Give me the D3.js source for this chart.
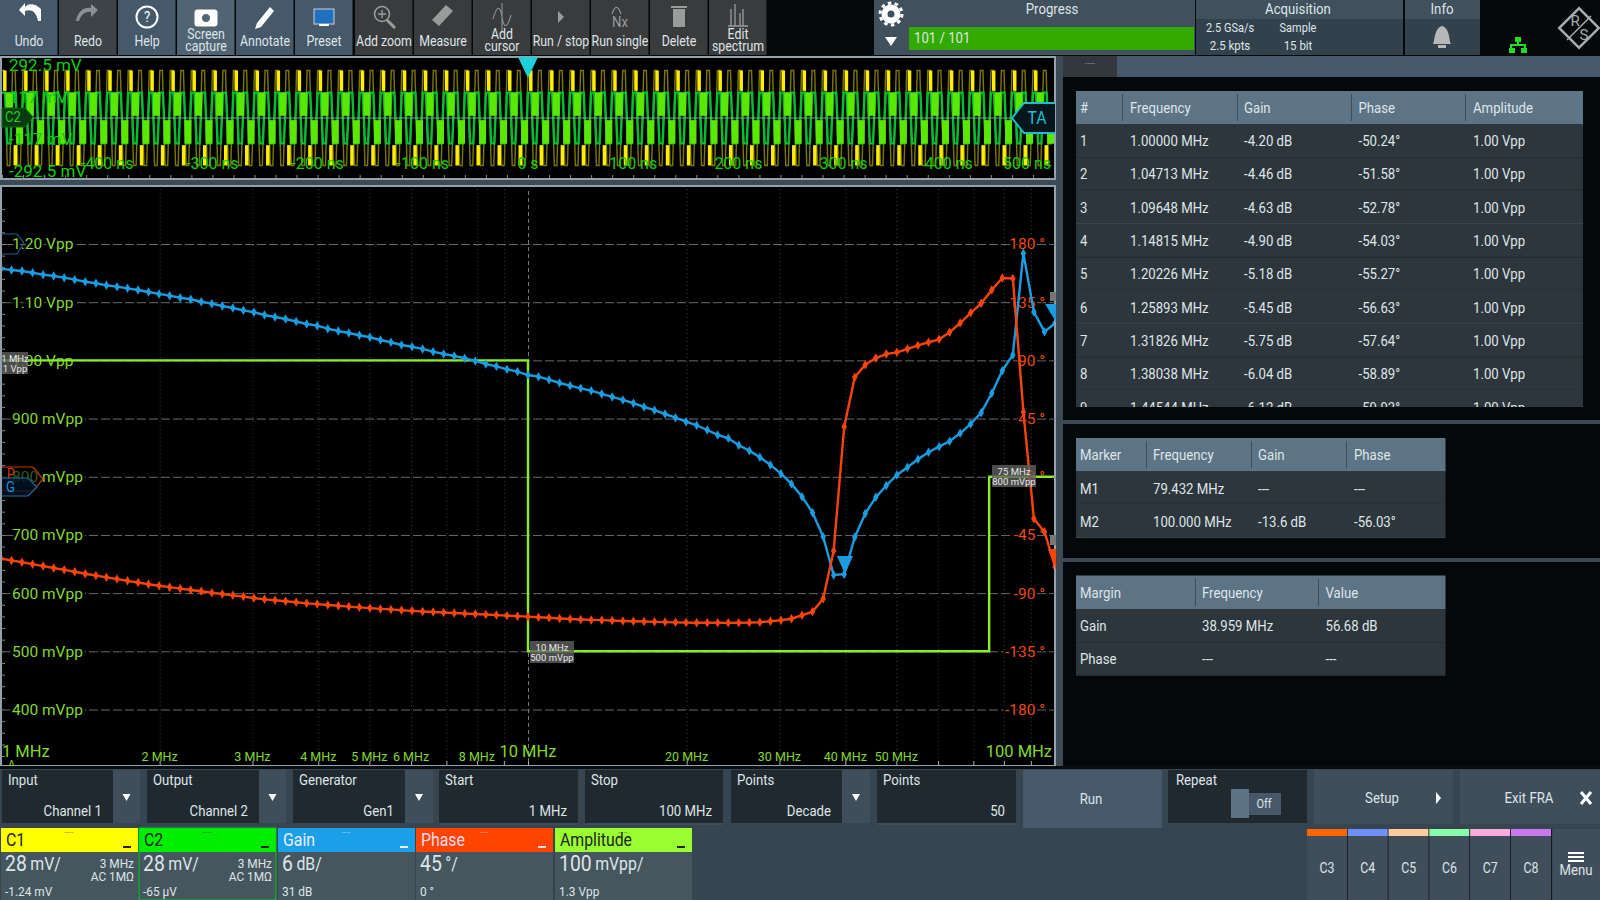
<!DOCTYPE html>
<html>
<head>
<meta charset="utf-8">
<script src="https://cdnjs.cloudflare.com/ajax/libs/d3/7.8.5/d3.min.js"></script>
<style>
  html, body { margin: 0; padding: 0; background: #040808; overflow: hidden; }
  svg { display: block; }
  text { font-family: Roboto, sans-serif; }
</style>
</head>
<body>
<svg id="scope" width="1600" height="900"></svg>
<script>
// sweep frequencies in MHz, 50 points per decade
const sweepFreq = [
  1.000, 1.047, 1.096, 1.148, 1.202, 1.259, 1.318, 1.380, 1.445, 1.514,
  1.585, 1.660, 1.738, 1.820, 1.905, 1.995, 2.089, 2.188, 2.291, 2.399,
  2.512, 2.630, 2.754, 2.884, 3.020, 3.162, 3.311, 3.467, 3.631, 3.802,
  3.981, 4.169, 4.365, 4.571, 4.786, 5.012, 5.248, 5.495, 5.754, 6.026,
  6.310, 6.607, 6.918, 7.244, 7.586, 7.943, 8.318, 8.710, 9.120, 9.550,
  10.00, 10.47, 10.96, 11.48, 12.02, 12.59, 13.18, 13.80, 14.45, 15.14,
  15.85, 16.60, 17.38, 18.20, 19.05, 19.95, 20.89, 21.88, 22.91, 23.99,
  25.12, 26.30, 27.54, 28.84, 30.20, 31.62, 33.11, 34.67, 36.31, 38.02,
  39.81, 41.69, 43.65, 45.71, 47.86, 50.12, 52.48, 54.95, 57.54, 60.26,
  63.10, 66.07, 69.18, 72.44, 75.86, 79.43, 83.18, 87.10, 91.20, 95.50,
  100.0
];
const gainDb = [
  -4.20, -4.33, -4.43, -4.61, -4.81, -4.95, -5.12, -5.33, -5.54, -5.70,
  -5.91, -6.05, -6.22, -6.39, -6.60, -6.80, -6.98, -7.19, -7.35, -7.60,
  -7.80, -8.04, -8.25, -8.49, -8.69, -8.97, -9.18, -9.38, -9.64, -9.90,
  -10.07, -10.38, -10.62, -10.83, -11.06, -11.27, -11.55, -11.78, -12.06, -12.24,
  -12.47, -12.75, -12.99, -13.20, -13.43, -13.71, -14.02, -14.26, -14.57, -14.81,
  -15.16, -15.33, -15.64, -15.98, -16.26, -16.53, -16.77, -17.11, -17.42, -17.73,
  -18.07, -18.45, -18.79, -19.18, -19.56, -19.97, -20.34, -20.83, -21.34, -21.68,
  -22.40, -22.96, -23.64, -24.43, -25.33, -26.39, -27.70, -29.35, -31.83, -35.77,
  -35.70, -31.89, -29.45, -27.76, -26.55, -25.46, -24.67, -23.85, -23.12, -22.55,
  -21.99, -21.17, -20.21, -19.04, -17.04, -14.71, -13.09, -2.61, -8.66, -10.69,
  -9.83
];
const phaseDeg = [
  -63.2, -64.7, -66.1, -67.6, -69.1, -70.6, -72.0, -73.5, -75.0, -76.4,
  -77.8, -79.1, -80.5, -81.8, -83.1, -84.3, -85.4, -86.5, -87.6, -88.6,
  -89.7, -90.7, -91.7, -92.7, -93.8, -94.8, -95.5, -96.3, -97.1, -97.9,
  -98.5, -99.2, -99.8, -100.4, -101.0, -101.6, -102.2, -102.6, -103.2, -103.7,
  -104.2, -104.6, -105.0, -105.4, -105.7, -106.1, -106.5, -107.0, -107.4, -107.8,
  -108.2, -108.7, -109.1, -109.6, -110.0, -110.4, -110.7, -110.9, -111.2, -111.5,
  -111.7, -111.9, -112.2, -112.4, -112.6, -112.8, -112.9, -112.9, -112.9, -113.0,
  -112.9, -112.8, -112.5, -111.8, -111.0, -109.8, -107.1, -104.3, -94.3, -57.2,
  38.7, 76.9, 86.6, 91.8, 94.9, 96.2, 98.8, 101.6, 104.0, 106.3,
  111.7, 118.9, 126.8, 134.1, 144.4, 153.7, 153.4, 50.1, -32.5, -42.5,
  -69.6
];
// amplitude profile: stepped, three segments
const ampFreq = [1, 10, 10, 75, 75, 100];
const ampVpp = [1.0, 1.0, 0.5, 0.5, 0.8, 0.8];

const ampTicks = [1.2, 1.1, 1.0, 0.9, 0.8, 0.7, 0.6, 0.5, 0.4];
const phaseTicks = [180, 135, 90, 45, 0, -45, -90, -135, -180];
const freqGrid = [2, 3, 4, 5, 6, 7, 8, 9, 10, 20, 30, 40, 50, 60, 70, 80, 90];
const freqSmallLabels = [2, 3, 4, 5, 6, 8, 20, 30, 40, 50];
const freqBigLabels = [1, 10, 100];

// one repeat (20 ns) of the two time traces
const c1LineT = [0, 2.5, 5, 7.5, 10, 12.5, 15, 17.5];
const c1LineV = [262, 262, -262, -262, 262, 262, -262, -262];
const c1BarT = [1, 11], c1BarHi = [262, -150], c1BarLo = [150, -262];
const c2LineT = [0, 3, 5, 8, 10, 13, 15, 18];
const c2LineV = [140, 140, -140, -140, 140, 140, -140, -140];
const c2BarT = [3.5, 13.5], c2BarHi = [142, -12], c2BarLo = [12, -142];
const timeTicks = [-400, -300, -200, -100, 0, 100, 200, 300, 400];
const voltTicks = [292.5, 117, -117, -292.5];

const toolNames = [['Undo'], ['Redo'], ['Help'], ['Screen', 'capture'], ['Annotate'], ['Preset'], ['Add zoom'],
  ['Measure'], ['Add', 'cursor'], ['Run / stop'], ['Run single'], ['Delete'], ['Edit', 'spectrum']];

const resultHead = ['#', 'Frequency', 'Gain', 'Phase', 'Amplitude'];
const resultIdx = ['1', '2', '3', '4', '5', '6', '7', '8', '9'];
const resultFreq = ['1.00000 MHz', '1.04713 MHz', '1.09648 MHz', '1.14815 MHz', '1.20226 MHz', '1.25893 MHz', '1.31826 MHz', '1.38038 MHz', '1.44544 MHz'];
const resultGain = ['-4.20 dB', '-4.46 dB', '-4.63 dB', '-4.90 dB', '-5.18 dB', '-5.45 dB', '-5.75 dB', '-6.04 dB', '-6.12 dB'];
const resultPhase = ['-50.24°', '-51.58°', '-52.78°', '-54.03°', '-55.27°', '-56.63°', '-57.64°', '-58.89°', '-59.93°'];
const resultAmp = ['1.00 Vpp', '1.00 Vpp', '1.00 Vpp', '1.00 Vpp', '1.00 Vpp', '1.00 Vpp', '1.00 Vpp', '1.00 Vpp', '1.00 Vpp'];

const markerRows = [['Marker', 'Frequency', 'Gain', 'Phase'], ['M1', '79.432 MHz', '---', '---'], ['M2', '100.000 MHz', '-13.6 dB', '-56.03°']];
const marginRows = [['Margin', 'Frequency', 'Value'], ['Gain', '38.959 MHz', '56.68 dB'], ['Phase', '---', '---']];

const svg = d3.select('#scope');
const BAND = '#3b4a55', HEAD = '#5d7386', ROW = '#2d363c', TXT = '#dfe5e8';

function label(g, x, y, str, o = {}) {
  const sx = o.wide ? 1 : 0.88;
  return g.append('text')
    .attr('transform', `translate(${x},${y}) scale(${sx},1)`)
    .attr('text-anchor', o.anchor || 'start')
    .attr('dominant-baseline', 'central')
    .attr('font-size', o.size || 15)
    .attr('fill', o.fill || TXT)
    .text(str);
}
function box(g, x, y, w, h, fill, stroke) {
  return g.append('rect').attr('x', x).attr('y', y).attr('width', w).attr('height', h)
    .attr('fill', fill).attr('stroke', stroke || 'none');
}

// ---- toolbar
const bar = svg.append('g');
const toolFill = ['#46596a', '#3c4349', '#46596a', '#506474', '#46596a', '#46596a', '#393b3d', '#393b3d', '#393b3d', '#393b3d', '#393b3d', '#393b3d', '#393b3d'];
const toolIcon = [
  'M12 -8 C4 -16 -3 -12 -4 -10 L-4 -14 L-10 -7 L-4 -1 L-4 -6 C2 -8 7 -6 9 4 L12 4 Z',
  'M-12 4 C-10 -6 -4 -10 3 -9 L3 -13 L10 -7 L3 0 L3 -5 C-3 -6 -7 -2 -9 4 Z',
  null, null, 'M-8 6 L-10 12 L-4 10 L9 -6 L5 -10 Z', null, null,
  'M-11 3 L3 -12 L10 -6 L-4 9 Z', null, 'M-3 -6 L3 0 L-3 6 Z', null, null, null];
const iconFill = ['#fff', '#8a8f92', '#fff', '#fff', '#fff', '#fff', '#9a9c9c', '#9a9c9c', '#8a8c8c', '#9a9c9c', '#9a9c9c', '#9a9c9c', '#9a9c9c'];
toolNames.forEach((names, i) => {
  const x = i * 59 + (i > 5 ? 1 : 0), cx = x + 29;
  box(bar, x, 0, 57.5, 55, toolFill[i]);
  const ic = bar.append('g').attr('transform', `translate(${cx},17)`).attr('fill', iconFill[i]).attr('stroke', iconFill[i]);
  if (toolIcon[i]) ic.append('path').attr('d', toolIcon[i]).attr('stroke', 'none');
  if (i === 2) {
    ic.append('circle').attr('r', 10.5).attr('fill', 'none').attr('stroke-width', 2);
    label(ic, 0, 0, '?', { anchor: 'middle', size: 15, fill: '#fff' }).attr('stroke', 'none');
  }
  if (i === 3) {
    ic.append('rect').attr('x', -11).attr('y', -7).attr('width', 22).attr('height', 16).attr('rx', 2);
    ic.append('circle').attr('cy', 1).attr('r', 4.5).attr('fill', '#506474');
  }
  if (i === 5) {
    ic.append('rect').attr('x', -10).attr('y', -8).attr('width', 20).attr('height', 15).attr('fill', '#2070c0').attr('stroke', '#ccc');
    ic.append('rect').attr('x', -5).attr('y', 7).attr('width', 10).attr('height', 2).attr('stroke', 'none');
  }
  if (i === 6) {
    ic.append('circle').attr('cx', -2).attr('cy', -3).attr('r', 7.5).attr('fill', 'none').attr('stroke-width', 1.6);
    ic.append('line').attr('x1', 3).attr('y1', 3).attr('x2', 11).attr('y2', 11).attr('stroke-width', 3);
    ic.append('path').attr('d', 'M-6 -3 H2 M-2 -7 V1').attr('stroke-width', 1.4);
  }
  if (i === 8) ic.append('path').attr('d', 'M-9 2 C-5 -12 -2 -12 0 0 C2 12 5 12 9 -2 M0 -14 V14').attr('fill', 'none').attr('stroke-width', 1.2);
  if (i === 10) {
    ic.append('path').attr('d', 'M-8 -3 C-5 -12 -2 -12 1 -3').attr('fill', 'none').attr('stroke-width', 1.2);
    label(ic, 0, 5, 'Nx', { anchor: 'middle', size: 15, fill: '#9a9c9c' }).attr('stroke', 'none');
  }
  if (i === 11) {
    ic.append('rect').attr('x', -6).attr('y', -8).attr('width', 12).attr('height', 18).attr('stroke', 'none');
    ic.append('rect').attr('x', -8).attr('y', -11).attr('width', 16).attr('height', 2).attr('stroke', 'none');
  }
  if (i === 12) ic.append('path').attr('d', 'M-10 9 H10 M-7 9 V-8 M-3 9 V-13 M2 9 V-4 M5 9 V-8').attr('fill', 'none').attr('stroke-width', 1.3);
  if (names.length === 2) {
    label(bar, cx, 34, names[0], { anchor: 'middle', size: 14 });
    label(bar, cx, 46, names[1], { anchor: 'middle', size: 14 });
  } else {
    label(bar, cx, 41, names[0], { anchor: 'middle', size: 14 });
  }
});

// gear and progress group
box(bar, 874, 0, 35, 55, '#40505c');
bar.append('circle').attr('cx', 891).attr('cy', 14).attr('r', 6.5).attr('fill', 'none').attr('stroke', '#fff').attr('stroke-width', 6);
bar.append('circle').attr('cx', 891).attr('cy', 14).attr('r', 11).attr('fill', 'none').attr('stroke', '#fff').attr('stroke-width', 3).attr('stroke-dasharray', '3.5 3.4');
bar.append('path').attr('d', 'M885 37 H897 L891 46 Z').attr('fill', '#fff');
box(bar, 909, 0, 286, 55, '#40505c');
box(bar, 909, 27, 285, 23, '#33aa00');
label(bar, 1052, 9, 'Progress', { anchor: 'middle', size: 15 });
label(bar, 914, 38, '101 / 101', { size: 15 });
box(bar, 1196, 0, 207, 55, '#33414c');
box(bar, 1196, 0, 207, 19, '#40505c');
label(bar, 1298, 9, 'Acquisition', { anchor: 'middle', size: 15 });
label(bar, 1230, 28, '2.5 GSa/s', { anchor: 'middle', size: 12.5 });
label(bar, 1298, 28, 'Sample', { anchor: 'middle', size: 12.5 });
label(bar, 1230, 46, '2.5 kpts', { anchor: 'middle', size: 13 });
label(bar, 1298, 46, '15 bit', { anchor: 'middle', size: 13 });
box(bar, 1405, 0, 75, 55, '#33414c');
box(bar, 1405, 0, 75, 19, '#40505c');
label(bar, 1442, 9, 'Info', { anchor: 'middle', size: 15 });
bar.append('path').attr('d', 'M1433 44 C1435 41 1434 28 1442 26 C1450 28 1449 41 1451 44 Z').attr('fill', '#b8b8b8');
box(bar, 1438, 45, 8, 3, '#b8b8b8');
// network icon
bar.append('path').attr('d', 'M1515 37 h6 v5 h-2 v2 h7 v4 h-2 v-2 h-12 v2 h-2 v-4 h7 v-2 h-2 z').attr('fill', '#22dd22');
box(bar, 1509, 48, 6, 5, '#22dd22'); box(bar, 1521, 48, 6, 5, '#22dd22');
// logo
const logo = bar.append('g').attr('transform', 'translate(1579,28)');
logo.append('rect').attr('x', -14).attr('y', -14).attr('width', 28).attr('height', 28)
  .attr('transform', 'rotate(45)').attr('fill', 'none').attr('stroke', '#a7adb0').attr('stroke-width', 2.5);
label(logo, -4, -7, 'R', { anchor: 'middle', size: 15, fill: '#a7adb0', wide: true });
label(logo, 5, 7, 'S', { anchor: 'middle', size: 15, fill: '#a7adb0', wide: true });
logo.append('line').attr('x1', -12).attr('y1', 12).attr('x2', 12).attr('y2', -12).attr('stroke', '#a7adb0').attr('stroke-width', 1.5);

// ---- frames and bands
box(svg, 0, 180, 1063, 6, BAND);
box(svg, 1056, 56, 7, 714, BAND);
box(svg, 1063, 56, 537, 21, '#46586a');
box(svg, 1063, 56, 54, 21, '#32383c');
label(svg, 1090, 64, '·····', { anchor: 'middle', size: 9, fill: '#bbb' });
box(svg, 1063, 420, 537, 4, BAND);
box(svg, 1063, 558, 537, 4, BAND);

// ---- upper panel: time traces
const tPanel = svg.append('g');
box(tPanel, 1, 57, 1054, 122, '#000', '#93a2ad').attr('stroke-width', 2);
const xTime = d3.scaleLinear().domain([-500, 500]).range([2, 1054]);
const yVolt = d3.scaleLinear().domain([292.5, -292.5]).range([65, 171]);
tPanel.append('clipPath').attr('id', 'tclip').append('rect').attr('x', 2).attr('y', 58).attr('width', 1052).attr('height', 120);
const traces = tPanel.append('g').attr('clip-path', 'url(#tclip)');

tPanel.append('g').attr('transform', 'translate(0,178)')
  .call(d3.axisBottom(xTime).tickValues(d3.range(-500, 501, 20)).tickSize(-3).tickFormat(''))
  .call(a => a.select('.domain').remove())
  .call(a => a.selectAll('line').attr('stroke', '#888'));

const cycles = d3.range(-500, 500, 20);
const traceLine = d3.line().x(d => xTime(d[0])).y(d => yVolt(d[1]));
function linePts(ts, vs) {
  return cycles.flatMap(c => ts.map((t, i) => [c + t, vs[i]]));
}
function drawBars(ts, hi, lo, fill, w) {
  cycles.forEach(c => ts.forEach((t, i) => {
    traces.append('rect').attr('x', xTime(c + t)).attr('y', yVolt(hi[i]))
      .attr('width', w).attr('height', yVolt(lo[i]) - yVolt(hi[i])).attr('fill', fill);
  }));
}
traces.append('path').attr('d', traceLine(linePts(c1LineT, c1LineV)))
  .attr('fill', 'none').attr('stroke', '#7e7800').attr('stroke-width', 1.4);
drawBars(c1BarT, c1BarHi, c1BarLo, '#ffee00', 3.5);
traces.append('path').attr('d', traceLine(linePts(c2LineT, c2LineV)))
  .attr('fill', 'none').attr('stroke', '#00c030').attr('stroke-width', 2.4);
drawBars(c2BarT, c2BarHi, c2BarLo, '#5ae800', 7);
traces.append('line').attr('x1', 2).attr('x2', 1054).attr('y1', yVolt(0)).attr('y2', yVolt(0)).attr('stroke', '#b0b0a0').attr('stroke-width', 0.8);

tPanel.selectAll('text.tick-t').data(timeTicks).join('text').attr('class', 'tick-t')
  .attr('x', d => xTime(d)).attr('y', 163).attr('text-anchor', 'middle').attr('font-size', 16)
  .attr('dominant-baseline', 'central').attr('fill', '#10d010')
  .text(d => d === 0 ? '0 s' : d + ' ns');
label(tPanel, 1051, 163, '500 ns', { anchor: 'end', size: 16, fill: '#10d010', wide: true });
tPanel.selectAll('text.tick-v').data(voltTicks).join('text').attr('class', 'tick-v')
  .attr('x', 9).attr('y', d => yVolt(d)).attr('font-size', 17)
  .attr('dominant-baseline', 'central').attr('fill', '#10d010')
  .text(d => d + ' mV');
// C2 handle, trigger position, TA handle
tPanel.append('path').attr('d', 'M2 108 H25 L33 117 L25 127 H2 Z').attr('fill', '#0a3a10').attr('stroke', '#0a6a10');
label(tPanel, 5, 117, 'C2', { size: 15, fill: '#22cc22' });
tPanel.append('path').attr('d', 'M518 57 H538 L528 78 Z').attr('fill', '#1fd0d8');
tPanel.append('path').attr('d', 'M1055 103 H1024 L1012 118 L1024 133 H1055').attr('fill', '#06161c').attr('stroke', '#16c0d0').attr('stroke-width', 2);
label(tPanel, 1037, 118, 'TA', { anchor: 'middle', size: 18, fill: '#16c0d0' });

// ---- lower panel: bode plot
const plot = svg.append('g');
box(plot, 1, 186, 1054, 580, '#000', '#93a2ad').attr('stroke-width', 2);
const xFreq = d3.scaleLog().domain([1, 100]).range([1, 1055]);
const yAmp = d3.scaleLinear().domain([1.2, 0.4]).range([244, 709.5]);
const yPhase = d3.scaleLinear().domain([180, -180]).range([244, 709.5]);
const yGain = d3.scaleLinear().domain([-1.65, -49.65]).range([244, 709.5]);

// vertical grid
plot.append('g').attr('transform', 'translate(0,762)')
  .call(d3.axisBottom(xFreq).tickValues(freqGrid).tickSize(-574).tickFormat(''))
  .call(a => a.select('.domain').remove())
  .call(a => a.selectAll('line').attr('stroke', d => d === 10 ? '#777' : '#3f3f3f')
    .attr('stroke-dasharray', d => d === 10 ? '4 3' : '1 3'));
plot.append('g').attr('transform', 'translate(0,766)')
  .call(d3.axisBottom(xFreq).tickValues(freqGrid).tickSize(-5).tickFormat(''))
  .call(a => a.select('.domain').remove())
  .call(a => a.selectAll('line').attr('stroke', '#aaa'));
// left hand minor ticks
plot.append('g').attr('transform', 'translate(5,0)')
  .call(d3.axisLeft(yAmp).tickValues(d3.range(-3, 63).map(k => 1.2 - k * 0.02)).tickSize(4).tickFormat(''))
  .call(a => a.select('.domain').remove())
  .call(a => a.selectAll('line').attr('stroke', '#888'));

// amplitude axis with its grid lines
plot.append('g').attr('transform', 'translate(5,0)')
  .call(d3.axisLeft(yAmp).tickValues(ampTicks).tickSize(-1050)
    .tickFormat(d => d >= 1 ? d.toFixed(2) + ' Vpp' : Math.round(d * 1000) + ' mVpp'))
  .call(a => a.select('.domain').remove())
  .call(a => a.selectAll('line').attr('stroke', '#6a6a6a').attr('stroke-dasharray', '9 3'))
  .call(a => a.selectAll('text').attr('x', 7).attr('text-anchor', 'start').attr('font-size', 15.5)
    .attr('font-family', 'Roboto, sans-serif').attr('fill', '#84d82e')
    .attr('stroke', '#000').attr('stroke-width', 5).attr('paint-order', 'stroke'));

// phase axis, right side
plot.append('g').attr('transform', 'translate(1045,0)')
  .call(d3.axisLeft(yPhase).tickValues(phaseTicks).tickSize(0).tickPadding(0).tickFormat(d => d + ' °'))
  .call(a => a.select('.domain').remove())
  .call(a => a.selectAll('text').attr('font-size', 15.5).attr('font-family', 'Roboto, sans-serif').attr('fill', '#ee4a14')
    .attr('stroke', '#000').attr('stroke-width', 3).attr('paint-order', 'stroke'));

// frequency labels
plot.selectAll('text.f-small').data(freqSmallLabels).join('text').attr('class', 'f-small')
  .attr('x', d => xFreq(d)).attr('y', 756).attr('text-anchor', 'middle').attr('font-size', 12.5)
  .attr('dominant-baseline', 'central').attr('fill', '#84d82e').text(d => d + ' MHz');
plot.selectAll('text.f-big').data(freqBigLabels).join('text').attr('class', 'f-big')
  .attr('x', d => d === 1 ? 2 : d === 100 ? 1052 : xFreq(d))
  .attr('y', 751).attr('font-size', 16.5)
  .attr('text-anchor', d => d === 1 ? 'start' : d === 100 ? 'end' : 'middle')
  .attr('dominant-baseline', 'central').attr('fill', '#84d82e').text(d => d + ' MHz');

plot.append('clipPath').attr('id', 'pclip').append('rect').attr('x', 2).attr('y', 187).attr('width', 1052).attr('height', 578);
const curves = plot.append('g').attr('clip-path', 'url(#pclip)');

// amplitude steps
const ampLine = d3.line().x((d, i) => xFreq(ampFreq[i])).y(d => yAmp(d));
curves.append('path').attr('d', ampLine(ampVpp)).attr('fill', 'none').attr('stroke', '#88ee22').attr('stroke-width', 2.4);

function drawCurve(values, yScale, color) {
  const line = d3.line().x((d, i) => xFreq(sweepFreq[i])).y(d => yScale(d));
  curves.append('path').attr('d', line(values)).attr('fill', 'none').attr('stroke', color).attr('stroke-width', 2.4);
  curves.selectAll(null).data(values).join('path')
    .attr('d', d3.symbol(d3.symbolDiamond, 26))
    .attr('transform', (d, i) => `translate(${xFreq(sweepFreq[i])},${yScale(d)})`)
    .attr('fill', color);
}
drawCurve(gainDb, yGain, '#1a9de0');
drawCurve(phaseDeg, yPhase, '#f8440a');

// value chips on the amplitude profile
function chip(x, y, w, a, b) {
  box(plot, x, y, w, 22, 'rgba(95,95,95,0.8)');
  label(plot, x + w / 2, y + 6, a, { anchor: 'middle', size: 9.5, fill: '#e8e8e8', wide: true });
  label(plot, x + w / 2, y + 16, b, { anchor: 'middle', size: 9.5, fill: '#e8e8e8', wide: true });
}
chip(2, 352, 26, '1 MHz', '1 Vpp');
chip(530, 641, 44, '10 MHz', '500 mVpp');
chip(992, 465, 44, '75 MHz', '800 mVpp');

// curve markers and handles
plot.append('path').attr('d', 'M837 556 H853 L845 574 Z').attr('fill', '#1a9de0');
plot.append('path').attr('d', 'M1045 304 H1056 V322 Z').attr('fill', '#1a9de0');
box(plot, 1050, 292, 6, 9, '#777');
plot.append('path').attr('d', 'M1048 549 L1056 549 V570 Z').attr('fill', '#f8440a');
box(plot, 1050, 535, 6, 10, '#777');
plot.append('path').attr('d', 'M2 234 H17 L24 243 L17 254 H2').attr('fill', 'none').attr('stroke', '#1d5f90').attr('stroke-width', 1.2);
plot.append('path').attr('d', 'M2 467 H33 L43 479 L33 491 H2').attr('fill', 'rgba(0,0,0,0.6)').attr('stroke', '#c43810').attr('stroke-width', 1.2);
label(plot, 7, 474, 'P', { size: 14, fill: '#d83a10' });
plot.append('path').attr('d', 'M2 478 H28 L37 487 L28 496 H2').attr('fill', 'rgba(0,20,40,0.75)').attr('stroke', '#1d6fa0').attr('stroke-width', 1.2);
label(plot, 6, 487, 'G', { size: 15, fill: '#1d8fd0' });
label(plot, 8, 764, 'A', { size: 11, fill: '#84d82e', wide: true });

// ---- result tables
function headCells(g, x, y, w, h, seps) {
  box(g, x, y, w, h, HEAD);
  seps.forEach(s => box(g, s, y + 3, 1, h - 6, '#3c4d5b'));
}
function bodyRows(g, x, y, w, h, n) {
  d3.range(n).forEach(i => {
    box(g, x, y + i * h, w, h - 1, ROW);
    box(g, x, y + i * h + h - 1, w, 1, '#3c474f');
  });
}
const t1 = svg.append('g');
t1.append('clipPath').attr('id', 'rclip').append('rect').attr('x', 1076).attr('y', 90).attr('width', 507).attr('height', 317);
const t1c = t1.append('g').attr('clip-path', 'url(#rclip)');
headCells(t1c, 1076, 91, 507, 33, [1122, 1237, 1351, 1465]);
bodyRows(t1c, 1076, 124, 507, 33.35, 9);
const col1 = [1080, 1130, 1244, 1358.5, 1473];
resultHead.forEach((h, i) => label(t1c, col1[i], 108, h, { size: 15 }));
[resultIdx, resultFreq, resultGain, resultPhase, resultAmp].forEach((col, c) => {
  col.forEach((v, r) => label(t1c, col1[c], 140.5 + r * 33.35, v, { size: 15 }));
});

function smallTable(rows, y, cols, seps) {
  const g = svg.append('g');
  headCells(g, 1076, y, 369.5, 33.5, seps);
  bodyRows(g, 1076, y + 33.5, 369.5, 33.3, 2);
  rows.forEach((row, r) => row.forEach((v, c) => label(g, cols[c], y + 17 + r * 33.3, v, { size: 15 })));
}
smallTable(markerRows, 438, [1080, 1153, 1258, 1354], [1146, 1251, 1346]);
smallTable(marginRows, 575.5, [1080, 1202, 1325.5], [1195, 1318]);

// ---- bottom controls
const ctl = svg.append('g');
box(ctl, 0, 769, 1600, 131, '#36454f');
box(ctl, 0, 766, 1600, 3, '#0a0e10');
const DARK = '#20292f';
function field(x, w, head, value, dropW) {
  box(ctl, x, 770, w, 53, DARK);
  label(ctl, x + 6, 780, head, { size: 15 });
  label(ctl, x + w - 11, 811, value, { anchor: 'end', size: 15 });
  if (dropW) {
    box(ctl, x + w, 770, dropW, 53, '#3f4e5a');
    const c = x + w + dropW / 2;
    ctl.append('path').attr('d', `M${c - 4} 794 h8 l-4 7 z`).attr('fill', '#fff');
  } else {
    box(ctl, x, 823, w, 2, '#3f4e5a');
  }
}
field(2, 111, 'Input', 'Channel 1', 27);
field(147, 112, 'Output', 'Channel 2', 27);
field(293, 112, 'Generator', 'Gen1', 28);
field(439, 139, 'Start', '1  MHz');
field(585, 138, 'Stop', '100  MHz');
field(731, 111, 'Points', 'Decade', 28);
field(877, 139, 'Points', '50');
box(ctl, 1023, 770, 139, 58, '#46586a');
label(ctl, 1091, 799, 'Run', { anchor: 'middle', size: 15 });
box(ctl, 1168, 770, 139, 53, DARK);
label(ctl, 1176, 780, 'Repeat', { size: 15 });
box(ctl, 1249, 793, 32, 22, '#46586a');
box(ctl, 1231, 789, 18, 29, '#5c7385');
label(ctl, 1264, 804, 'Off', { anchor: 'middle', size: 12.5 });
box(ctl, 1314, 770, 139, 54, '#3f4e5a');
label(ctl, 1382, 798, 'Setup', { anchor: 'middle', size: 15 });
ctl.append('path').attr('d', 'M1436 792 L1441 798 L1436 804 Z').attr('fill', '#fff');
box(ctl, 1460, 770, 140, 54, '#3f4e5a');
label(ctl, 1529, 798, 'Exit FRA', { anchor: 'middle', size: 15 });
ctl.append('path').attr('d', 'M1581 792 L1591 804 M1591 792 L1581 804').attr('stroke', '#fff').attr('stroke-width', 3);

// channel strip
const stripNames = ['C1', 'C2', 'Gain', 'Phase', 'Amplitude'];
const stripX = [1, 139, 278, 416, 555];
const stripColor = ['#ffff00', '#00ee00', '#1a9fe8', '#ff4400', '#99ff33'];
const stripText = ['#222', '#222', '#eef', '#fde', '#222'];
const stripScale = ['28', '28', '6', '45', '100'];
const stripUnit = ['mV/', 'mV/', 'dB/', '°/', 'mVpp/'];
const stripBw = ['3 MHz', '3 MHz', '', '', ''];
const stripCpl = ['AC 1MΩ', 'AC 1MΩ', '', '', ''];
const stripOffset = ['-1.24 mV', '-65 µV', '31 dB', '0 °', '1.3 Vpp'];
stripNames.forEach((n, i) => {
  const x = stripX[i];
  box(ctl, x, 828, 137, 72, '#46565f');
  box(ctl, x, 828, 137, 24, stripColor[i]);
  label(ctl, x + 5, 840, n, { size: 18, fill: stripText[i] });
  label(ctl, x + 68, 832, '·····', { anchor: 'middle', size: 8, fill: stripText[i] });
  box(ctl, x + 122, 846, 8, 2, stripText[i]);
  const sc = label(ctl, x + 4, 864, stripScale[i], { size: 22 });
  sc.append('tspan').attr('font-size', 18).attr('dx', 4).text(stripUnit[i]);
  if (stripBw[i]) {
    label(ctl, x + 133, 863, stripBw[i], { anchor: 'end', size: 13.5 });
    label(ctl, x + 133, 876, stripCpl[i], { anchor: 'end', size: 13.5 });
  }
  label(ctl, x + 4, 891, stripOffset[i], { size: 13.5 });
});
box(ctl, 139, 828, 137, 72, 'none', '#00cc22');

// free channel buttons
const chanNames = ['C3', 'C4', 'C5', 'C6', 'C7', 'C8'];
const chanColor = ['#ff6600', '#6f8fff', '#ffcc99', '#88ffaa', '#ffaadd', '#cc77ee'];
chanNames.forEach((n, i) => {
  const x = 1307 + i * 40.8;
  box(ctl, x, 829, 40, 71, '#3f4e5a');
  box(ctl, x, 829, 40, 7, chanColor[i]);
  box(ctl, x + 40, 829, 1, 71, '#14191c');
  label(ctl, x + 20, 868, n, { anchor: 'middle', size: 14 });
});
box(ctl, 1553, 829, 47, 71, '#3f4e5a');
[0, 4, 8].forEach(d => box(ctl, 1568, 852 + d, 16, 2, '#fff'));
label(ctl, 1576, 870, 'Menu', { anchor: 'middle', size: 15 });
</script>
</body>
</html>
